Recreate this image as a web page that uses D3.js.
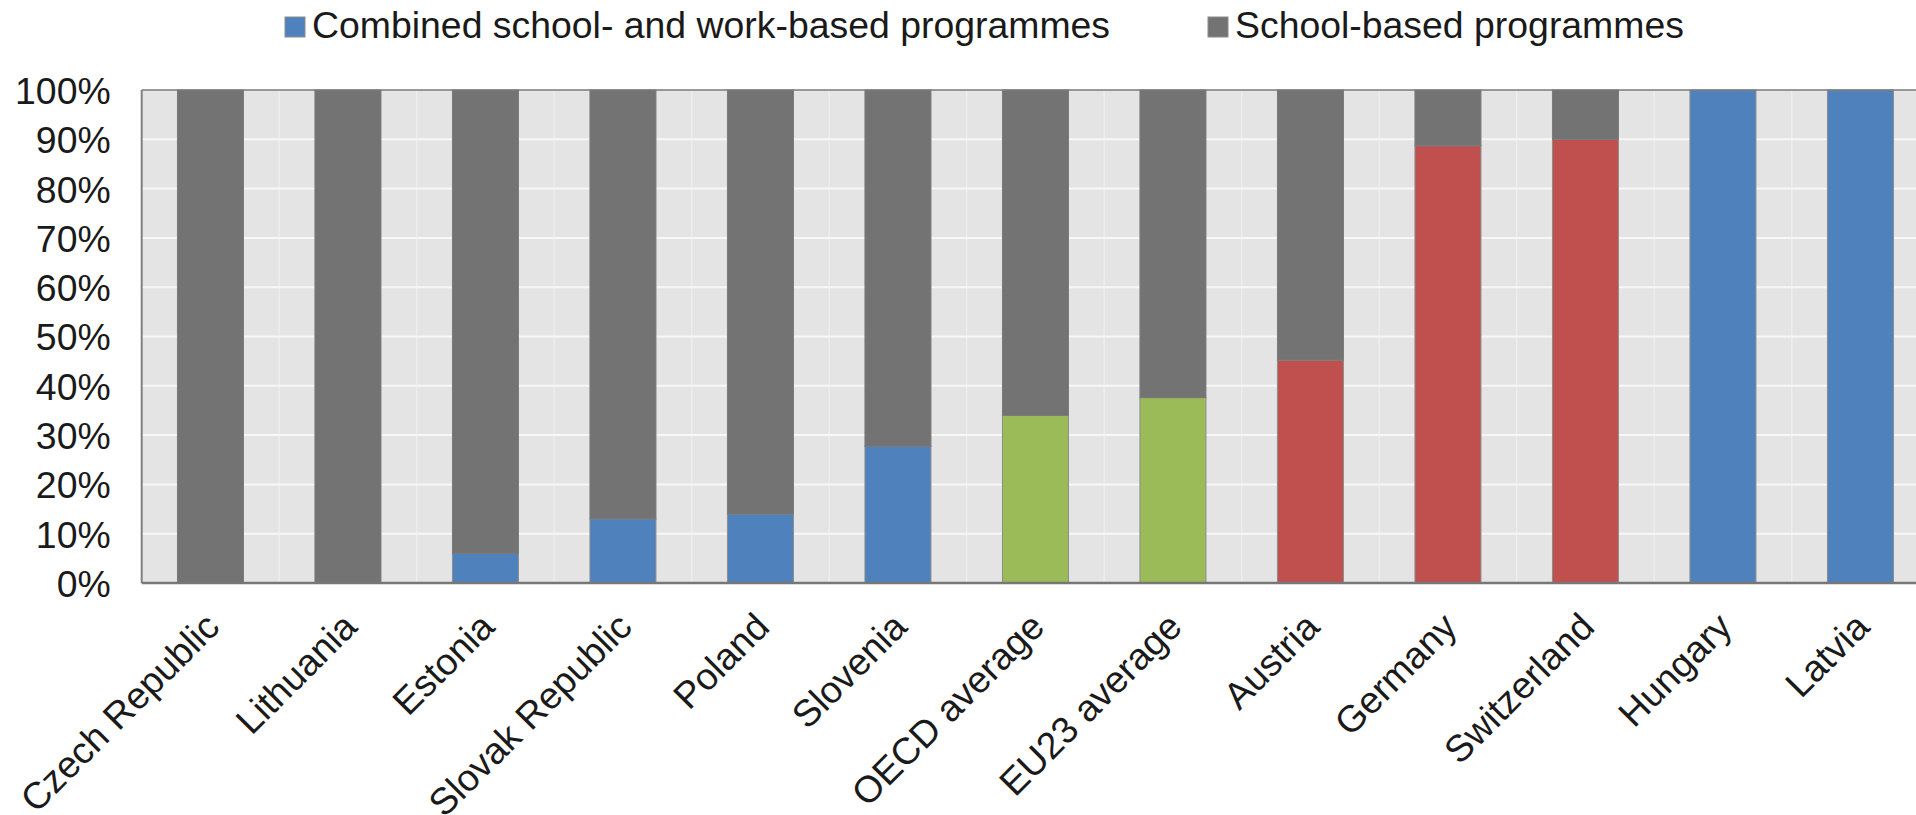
<!DOCTYPE html>
<html>
<head>
<meta charset="utf-8">
<script src="https://cdn.jsdelivr.net/npm/d3@7"></script>
<style>
  html, body { margin: 0; padding: 0; background: #ffffff; }
  svg { display: block; }
  text { font-family: "Liberation Sans", Arial, sans-serif; fill: #1a1a1a; }
</style>
</head>
<body>
<svg id="chart" width="1916" height="815"></svg>
<script>
// Share of upper-secondary vocational students by programme type
const categories = ["Czech Republic", "Lithuania", "Estonia", "Slovak Republic", "Poland", "Slovenia",
  "OECD average", "EU23 average", "Austria", "Germany", "Switzerland", "Hungary", "Latvia"];
// Combined school- and work-based programmes (% of total)
const combined = [0, 0, 6, 13, 14, 27.7, 34, 37.6, 45.2, 88.7, 90, 100, 100];
// School-based programmes (% of total)
const schoolBased = [100, 100, 94, 87, 86, 72.3, 66, 62.4, 54.8, 11.3, 10, 0, 0];
// Grouping used to colour the combined segment
const groups = ["country", "country", "country", "country", "country", "country",
  "average", "average", "dual", "dual", "dual", "country", "country"];
const seriesNames = ["Combined school- and work-based programmes", "School-based programmes"];
const yTicks = [0, 10, 20, 30, 40, 50, 60, 70, 80, 90, 100];

const groupColor = { country: "#4f81bd", average: "#9bbb59", dual: "#c0504d" };
const schoolColor = "#737373";
const fontSize = 37.4;

const svg = d3.select("#chart");
const plotLeft = 141.7, plotTop = 90, plotBottom = 583, step = 137.5;
const plotRight = plotLeft + step * categories.length;

const x = d3.scaleBand().domain(categories).range([plotLeft, plotRight]).padding(0);
const y = d3.scaleLinear().domain([0, 100]).range([plotBottom, plotTop]);
const barW = x.bandwidth() * 0.48;

// plot background
svg.append("rect")
  .attr("x", plotLeft).attr("y", plotTop)
  .attr("width", plotRight - plotLeft).attr("height", plotBottom - plotTop)
  .attr("fill", "#e4e4e4");

// faint vertical separators between categories
svg.append("g").selectAll("line")
  .data(categories.slice(1))
  .join("line")
  .attr("x1", d => x(d)).attr("x2", d => x(d))
  .attr("y1", plotTop).attr("y2", plotBottom)
  .attr("stroke", "#ededed").attr("stroke-width", 1.5);

// horizontal gridlines
svg.append("g").selectAll("line")
  .data(yTicks.slice(1, -1))
  .join("line")
  .attr("x1", plotLeft).attr("x2", plotRight)
  .attr("y1", d => y(d)).attr("y2", d => y(d))
  .attr("stroke", "#f7f7f7").attr("stroke-width", 2);

// stacked bars
const rows = categories.map((c, i) => ({ c, comb: combined[i], school: schoolBased[i], g: groups[i] }));
const bars = svg.append("g");
bars.selectAll("rect.comb")
  .data(rows.filter(d => d.comb > 0))
  .join("rect")
  .attr("class", "comb")
  .attr("x", d => x(d.c) + (x.bandwidth() - barW) / 2)
  .attr("width", barW)
  .attr("y", d => y(d.comb))
  .attr("height", d => y(0) - y(d.comb))
  .attr("fill", d => groupColor[d.g])
  .attr("stroke", "#8c8c8c").attr("stroke-width", 1);
bars.selectAll("rect.school")
  .data(rows.filter(d => d.school > 0))
  .join("rect")
  .attr("class", "school")
  .attr("x", d => x(d.c) + (x.bandwidth() - barW) / 2)
  .attr("width", barW)
  .attr("y", d => y(d.comb + d.school))
  .attr("height", d => y(d.comb) - y(d.comb + d.school))
  .attr("fill", schoolColor)
  .attr("stroke", "#7a7a7a").attr("stroke-width", 1);

// plot frame
svg.append("line").attr("x1", plotLeft).attr("x2", plotRight)
  .attr("y1", plotTop).attr("y2", plotTop).attr("stroke", "#7a7a7a").attr("stroke-width", 1.5);
svg.append("line").attr("x1", plotLeft).attr("x2", plotLeft)
  .attr("y1", plotTop).attr("y2", plotBottom).attr("stroke", "#808080").attr("stroke-width", 2);
svg.append("line").attr("x1", plotLeft).attr("x2", plotRight)
  .attr("y1", plotBottom).attr("y2", plotBottom).attr("stroke", "#777777").attr("stroke-width", 2.5);

// y axis labels
const yAxis = d3.axisLeft(y).tickValues(yTicks).tickFormat(d => d + "%").tickSize(0).tickPadding(31);
const yg = svg.append("g").attr("transform", `translate(${plotLeft},0)`).call(yAxis);
yg.select(".domain").remove();
yg.selectAll("text").attr("font-size", fontSize).attr("font-family", "Liberation Sans, Arial, sans-serif")
  .attr("fill", "#1a1a1a").attr("dy", "0.36em");

// x axis labels, rotated
const xAxis = d3.axisBottom(x).tickSize(0).tickPadding(0);
const xg = svg.append("g").attr("transform", `translate(0,${plotBottom})`).call(xAxis);
xg.select(".domain").remove();
xg.selectAll("text")
  .attr("font-size", fontSize).attr("font-family", "Liberation Sans, Arial, sans-serif").attr("fill", "#1a1a1a")
  .attr("text-anchor", "end")
  .attr("dy", 0).attr("y", 0)
  .attr("transform", "translate(11,46) rotate(-45)");

// legend
const legend = svg.append("g");
const legendItems = [
  { name: seriesNames[0], color: groupColor.country, x: 285 },
  { name: seriesNames[1], color: schoolColor, x: 1208 }
];
const li = legend.selectAll("g").data(legendItems).join("g")
  .attr("transform", d => `translate(${d.x},17)`);
li.append("rect").attr("width", 20).attr("height", 20)
  .attr("fill", d => d.color).attr("stroke", "#8c8c8c").attr("stroke-width", 1);
li.append("text").attr("x", 27).attr("y", 20.5)
  .attr("font-size", fontSize).text(d => d.name);
</script>
</body>
</html>
